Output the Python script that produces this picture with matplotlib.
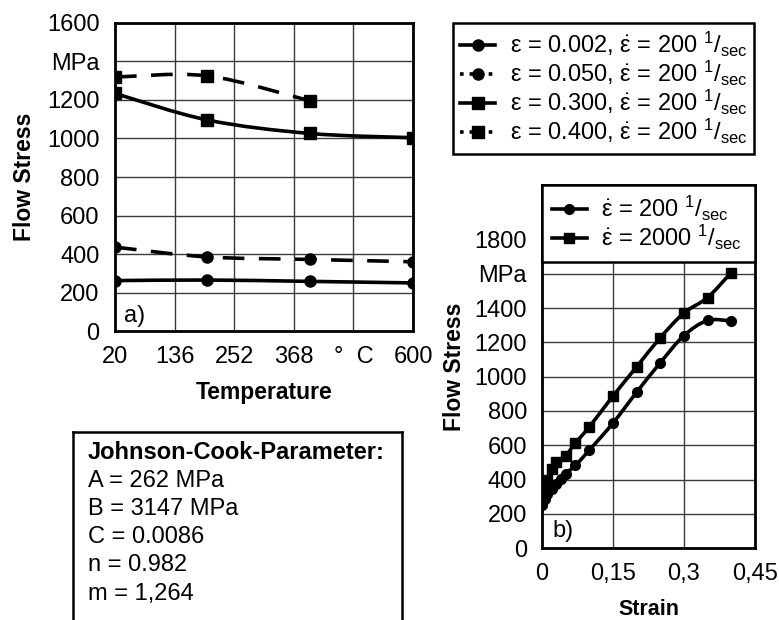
import numpy as np
import matplotlib.pyplot as plt
from matplotlib.lines import Line2D
from matplotlib.path import Path
from matplotlib.patches import PathPatch

plt.rcParams['font.family'] = ['Liberation Sans', 'DejaVu Sans']
plt.rcParams['mathtext.fontset'] = 'custom'
plt.rcParams['mathtext.rm'] = 'Liberation Sans'
plt.rcParams['mathtext.it'] = 'Liberation Sans'
plt.rcParams['mathtext.bf'] = 'Liberation Sans:bold'

# a) flow stress vs temperature
temp = [20, 200, 400, 600]
s_002 = [262, 265, 258, 250]
s_050 = [436, 385, 372, 360]
s_300 = [1234, 1096, 1026, 1004]
temp_400 = [20, 200, 400]
s_400 = [1319, 1325, 1195]

temp_ticks = [20, 136, 252, 368, 484, 600]
temp_labels = ['20', '136', '252', '368', '°  C', '600']
ya_ticks = [0, 200, 400, 600, 800, 1000, 1200, 1400, 1600]
ya_labels = ['0', '200', '400', '600', '800', '1000', '1200', 'MPa', '1600']

# b) flow stress vs strain
strain_200 = [0, 0.005, 0.01, 0.02, 0.03, 0.04, 0.05, 0.07, 0.10, 0.15, 0.20, 0.25, 0.30, 0.35, 0.40]
stress_200 = [250, 285, 315, 345, 375, 405, 435, 482, 572, 730, 910, 1082, 1240, 1328, 1325]
strain_2000 = [0, 0.005, 0.01, 0.02, 0.03, 0.05, 0.07, 0.10, 0.15, 0.20, 0.25, 0.30, 0.35, 0.40]
stress_2000 = [300, 345, 400, 462, 502, 540, 612, 708, 888, 1058, 1228, 1372, 1462, 1608]

strain_ticks = [0, 0.15, 0.3, 0.45]
strain_labels = ['0', '0,15', '0,3', '0,45']
yb_ticks = [0, 200, 400, 600, 800, 1000, 1200, 1400, 1600, 1800]
yb_labels = ['0', '200', '400', '600', '800', '1000', '1200', '1400', 'MPa', '1800']

jc_title = 'Johnson-Cook-Parameter:'
jc_lines = ['A = 262 MPa', 'B = 3147 MPa', 'C = 0.0086', 'n = 0.982', 'm = 1,264']

rate = r'$\dot{\varepsilon}$ = 200 $^{1}/_{\mathrm{sec}}$'
labels_a = ['ε = 0.002, ' + rate, 'ε = 0.050, ' + rate,
            'ε = 0.300, ' + rate, 'ε = 0.400, ' + rate]
labels_b = [r'$\dot{\varepsilon}$ = 200 $^{1}/_{\mathrm{sec}}$',
            r'$\dot{\varepsilon}$ = 2000 $^{1}/_{\mathrm{sec}}$']

fs = 17
lw = 2.6
grid_c = '#3a3a3a'


def smooth_line(ax, x, y, ls, marker, ms):
    # excel-like smoothed line: bezier segments through the data points
    x = np.asarray(x, float)
    y = np.asarray(y, float)
    verts = [(x[0], y[0])]
    codes = [Path.MOVETO]
    n = len(x)
    for i in range(n - 1):
        x0, y0 = (x[i - 1], y[i - 1]) if i > 0 else (x[i], y[i])
        x3, y3 = (x[i + 2], y[i + 2]) if i + 2 < n else (x[i + 1], y[i + 1])
        c1 = (x[i] + (x[i + 1] - x0) / 6, y[i] + (y[i + 1] - y0) / 6)
        c2 = (x[i + 1] - (x3 - x[i]) / 6, y[i + 1] - (y3 - y[i]) / 6)
        verts += [c1, c2, (x[i + 1], y[i + 1])]
        codes += [Path.CURVE4] * 3
    ax.add_patch(PathPatch(Path(verts, codes), fc='none', ec='k', lw=lw,
                           ls=ls, zorder=2))
    ax.plot(x, y, ls='none', color='k', marker=marker, ms=ms, zorder=3)


fig = plt.figure(figsize=(7.79, 6.2), dpi=100)

# ---------- panel a ----------
ax1 = fig.add_axes([0.1476, 0.466, 0.3826, 0.497])
smooth_line(ax1, temp, s_002, '-', 'o', 8)
smooth_line(ax1, temp, s_050, (0, (6, 4)), 'o', 8)
smooth_line(ax1, temp, s_300, '-', 's', 8)
smooth_line(ax1, temp_400, s_400, (0, (6, 4)), 's', 8)
ax1.set_xlim(20, 600)
ax1.set_ylim(0, 1600)
ax1.set_xticks(temp_ticks, temp_labels)
ax1.set_yticks(ya_ticks, ya_labels)
ax1.grid(True, color=grid_c, lw=1)
ax1.tick_params(length=0, labelsize=fs, pad=11)
ax1.set_xlabel('Temperature', fontsize=fs - 0.5, fontweight='bold', labelpad=9)
ax1.set_ylabel('Flow Stress', fontsize=fs - 0.5, fontweight='bold', labelpad=8)
ax1.text(0.03, 0.03, 'a)', transform=ax1.transAxes, fontsize=fs)
for s in ax1.spines.values():
    s.set_linewidth(2)

handles_a = [
    Line2D([], [], color='k', lw=lw, ls='-', marker='o', ms=8),
    Line2D([], [], color='k', lw=lw, ls=':', marker='o', ms=8),
    Line2D([], [], color='k', lw=lw, ls='-', marker='s', ms=8),
    Line2D([], [], color='k', lw=lw, ls=':', marker='s', ms=8),
]
leg = fig.legend(handles_a, labels_a, loc='upper left',
                 bbox_to_anchor=(0.5815, 0.963), fontsize=fs,
                 fancybox=False, framealpha=1, edgecolor='k',
                 handlelength=1.5, handletextpad=0.6, labelspacing=0.0,
                 borderaxespad=0, borderpad=0.3)
leg.get_frame().set_linewidth(1.8)

# ---------- panel b ----------
ax2 = fig.add_axes([0.696, 0.116, 0.273, 0.586])
smooth_line(ax2, strain_200, stress_200, '-', 'o', 7)
smooth_line(ax2, strain_2000, stress_2000, '-', 's', 7)
ax2.set_xlim(0, 0.45)
ax2.set_ylim(0, 2120)
ax2.set_xticks(strain_ticks, strain_labels)
ax2.set_yticks(yb_ticks, yb_labels)
ax2.grid(True, color=grid_c, lw=1)
ax2.tick_params(length=0, labelsize=fs, pad=11)
ax2.set_xlabel('Strain', fontsize=fs - 1.5, fontweight='bold', labelpad=10)
ax2.set_ylabel('Flow Stress', fontsize=fs - 0.5, fontweight='bold', labelpad=6)
ax2.text(0.05, 0.03, 'b)', transform=ax2.transAxes, fontsize=fs)
for s in ax2.spines.values():
    s.set_linewidth(2)
handles_b = [
    Line2D([], [], color='k', lw=lw, ls='-', marker='o', ms=7),
    Line2D([], [], color='k', lw=lw, ls='-', marker='s', ms=7),
]
legb = ax2.legend(handles_b, labels_b, loc='upper left',
                  bbox_to_anchor=(0, 0, 1, 1), mode='expand', fontsize=fs,
                  fancybox=False, framealpha=1, edgecolor='k',
                  handlelength=1.5, handletextpad=0.6, labelspacing=0.0,
                  borderaxespad=0, borderpad=0.4)
legb.get_frame().set_linewidth(1.8)
legb.set_zorder(5)

# ---------- Johnson-Cook box ----------
ax3 = fig.add_axes([0.094, -0.04, 0.422, 0.343])
ax3.set_xticks([])
ax3.set_yticks([])
for s in ax3.spines.values():
    s.set_linewidth(1.8)
ax3.text(0.045, 0.905, jc_title, transform=ax3.transAxes, fontsize=fs,
         fontweight='bold', va='center')
for i, t in enumerate(jc_lines):
    ax3.text(0.045, 0.905 - (i + 1) * 0.133, t, transform=ax3.transAxes,
             fontsize=fs, va='center')

fig.savefig('out.png', dpi=100)
